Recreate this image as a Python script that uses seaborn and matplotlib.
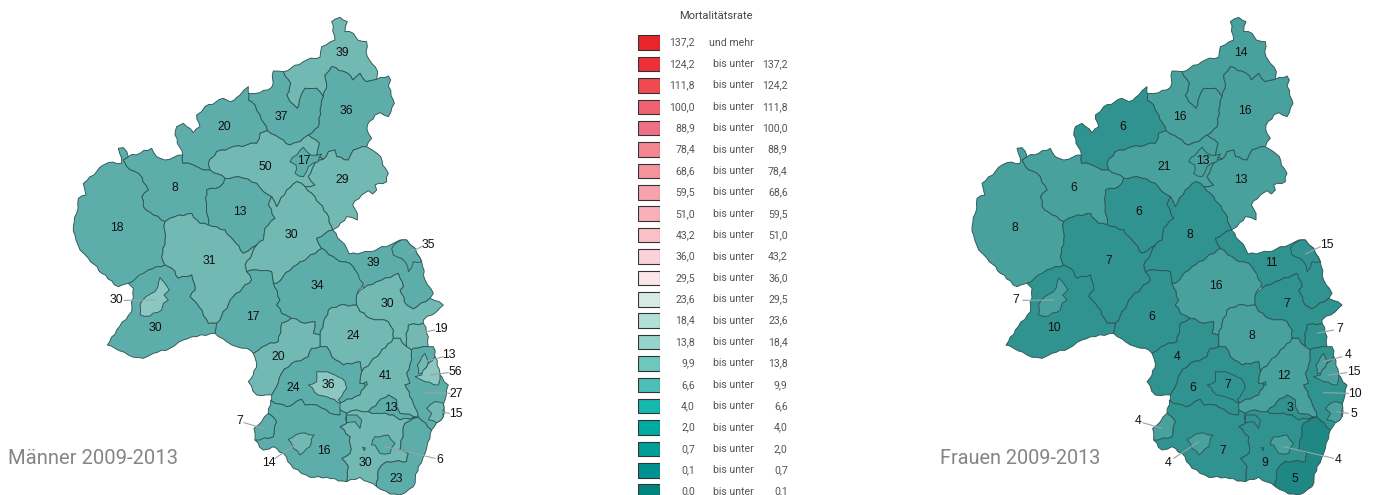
import math
import matplotlib
matplotlib.use("Agg")
import matplotlib.pyplot as plt
import pandas as pd
import seaborn as sns

sns.set_theme(style="white")
plt.rcParams['font.family'] = ['Liberation Sans', 'DejaVu Sans']
LEGEND_FONT = ['Roboto', 'DejaVu Sans']

# Legende
klasse_von = ['137,2', '124,2', '111,8', '100,0', '88,9', '78,4', '68,6', '59,5', '51,0', '43,2', '36,0',
              '29,5', '23,6', '18,4', '13,8', '9,9', '6,6', '4,0', '2,0', '0,7', '0,1', '0,0']
klasse_bis = ['', '137,2', '124,2', '111,8', '100,0', '88,9', '78,4', '68,6', '59,5', '51,0', '43,2',
              '36,0', '29,5', '23,6', '18,4', '13,8', '9,9', '6,6', '4,0', '2,0', '0,7', '0,1']
klasse_farbe = ['#E8252A', '#EE3038', '#F04A50', '#F06272', '#EE7085', '#F58690', '#F6949E', '#F8A2AC',
                '#FAB0B8', '#FBBFC6', '#FCD2D8', '#FDE6E9', '#D8EBE4', '#B2DFD8', '#96D4CB', '#6EC8BE',
                '#4CC0B6', '#14B8AE', '#00ABA2', '#009E98', '#009290', '#008480']

# Kreise, Werte und Farbstufe je Karte
kreise = ['Altenkirchen', 'Westerwald', 'Neuwied', 'Ahrweiler', 'Mayen-Koblenz', 'Rhein-Lahn', 'Koblenz',
          'Vulkaneifel', 'Bitburg-Pruem', 'Cochem-Zell', 'Rhein-Hunsrueck', 'Bernkastel-Wittlich',
          'Trier-Saarburg', 'Trier', 'Birkenfeld', 'Mainz-Bingen', 'Mainz', 'Bad Kreuznach', 'Alzey-Worms',
          'Worms', 'Donnersberg', 'Kusel', 'Kaiserslautern-Land', 'Kaiserslautern', 'Bad Duerkheim',
          'Rhein-Pfalz', 'Frankenthal', 'Ludwigshafen', 'Speyer', 'Neustadt', 'Suedliche Weinstrasse',
          'Landau', 'Germersheim', 'Suedwestpfalz', 'Pirmasens', 'Zweibruecken']
werte_maenner = [39, 36, 37, 20, 50, 29, 17, 8, 18, 13, 30, 31, 30, 30, 17, 39, 35, 34, 30, 19, 24, 20, 24, 36,
                 41, 27, 13, 56, 15, 13, 30, 6, 23, 16, 14, 7]
werte_frauen = [14, 16, 16, 6, 21, 13, 13, 6, 8, 6, 8, 7, 10, 7, 6, 11, 15, 16, 7, 7, 8, 4, 6, 7,
                12, 10, 4, 15, 5, 3, 9, 4, 5, 7, 4, 4]
stufe_maenner = ['#72B8B3', '#5DAEAA', '#5DAEAA', '#5DAEAA', '#72B8B3', '#72B8B3', '#5DAEAA', '#5DAEAA', '#5DAEAA',
                 '#5DAEAA', '#72B8B3', '#72B8B3', '#5DAEAA', '#8CC7C1', '#5DAEAA', '#5DAEAA', '#5DAEAA', '#5DAEAA',
                 '#72B8B3', '#72B8B3', '#72B8B3', '#72B8B3', '#5DAEAA', '#8CC7C1', '#72B8B3', '#5DAEAA', '#72B8B3',
                 '#8CC7C1', '#72B8B3', '#5DAEAA', '#72B8B3', '#5DAEAA', '#5DAEAA', '#5DAEAA', '#72B8B3', '#5DAEAA']
stufe_frauen = ['#48A19D', '#48A19D', '#48A19D', '#30938F', '#48A19D', '#48A19D', '#48A19D', '#48A19D', '#48A19D',
                '#30938F', '#30938F', '#30938F', '#30938F', '#48A19D', '#30938F', '#30938F', '#30938F', '#48A19D',
                '#30938F', '#30938F', '#48A19D', '#30938F', '#30938F', '#30938F', '#48A19D', '#30938F', '#48A19D',
                '#48A19D', '#48A19D', '#30938F', '#30938F', '#48A19D', '#1F8884', '#30938F', '#48A19D', '#48A19D']


def unten(punkte):
    return [(x, y + 720) for x, y in punkte]


def rauh(punkte):
    # Grenzen leicht zackig, gemeinsame Kanten zweier Kreise bleiben dabei deckungsgleich
    neu = []
    for i, p in enumerate(punkte):
        q = punkte[(i + 1) % len(punkte)]
        a, b = (p, q) if p <= q else (q, p)
        laenge = math.hypot(b[0] - a[0], b[1] - a[1])
        n = int(laenge // 12)
        zwischen = []
        for k in range(1, n):
            t = k / n
            s = ((a[0] * 7 + a[1] * 13 + b[0] * 3 + k * 29) % 11 - 5) * 0.65
            zwischen.append((a[0] + (b[0] - a[0]) * t - (b[1] - a[1]) / laenge * s,
                             a[1] + (b[1] - a[1]) * t + (b[0] - a[0]) / laenge * s))
        if p > q:
            zwischen.reverse()
        neu.append(p)
        neu.extend(zwischen)
    return neu


# Kartenumrisse in 3-fach vergroesserten Pixeln
umrisse = {
    'Altenkirchen': [(670, 215), (740, 180), (780, 172), (785, 140), (825, 120), (815, 65), (840, 52), (862, 65), (855, 95), (880, 100), (893, 120), (920, 125), (922, 170), (935, 190), (953, 215), (950, 238), (918, 245), (900, 220), (878, 240), (860, 218), (815, 200), (795, 225), (800, 250), (790, 290), (770, 265), (735, 265), (722, 290), (712, 325), (690, 305), (680, 285), (692, 250)],
    'Westerwald': [(815, 200), (860, 218), (878, 240), (900, 220), (918, 245), (950, 238), (985, 228), (992, 240), (985, 258), (1000, 300), (1003, 310), (985, 350), (960, 338), (945, 345), (922, 375), (925, 400), (935, 415), (920, 440), (880, 450), (865, 480), (830, 470), (825, 450), (805, 455), (790, 478), (770, 465), (778, 430), (745, 405), (775, 380), (780, 330), (790, 290), (800, 250), (795, 225)],
    'Neuwied': [(565, 280), (600, 278), (635, 262), (640, 213), (670, 215), (692, 250), (680, 285), (690, 305), (712, 325), (722, 290), (735, 265), (770, 265), (790, 290), (780, 330), (775, 380), (745, 405), (720, 425), (690, 435), (660, 415), (622, 392), (600, 345), (585, 315), (565, 300)],
    'Ahrweiler': [(345, 405), (350, 380), (370, 370), (400, 398), (420, 380), (410, 345), (435, 320), (490, 295), (510, 305), (540, 285), (565, 260), (565, 300), (585, 315), (600, 345), (622, 392), (600, 400), (590, 430), (560, 435), (520, 440), (470, 455), (445, 490), (450, 510), (430, 510), (400, 495), (368, 490), (368, 465)],
    'Mayen-Koblenz': [(622, 392), (660, 415), (690, 435), (720, 425), (745, 405), (778, 430), (770, 465), (790, 478), (765, 490), (745, 530), (765, 555), (735, 560), (710, 545), (680, 570), (650, 620), (635, 590), (610, 575), (590, 550), (535, 530), (495, 535), (450, 510), (445, 490), (470, 455), (520, 440), (560, 435), (590, 430), (600, 400)],
    'Rhein-Lahn': [(790, 478), (805, 455), (825, 450), (830, 470), (865, 480), (880, 450), (920, 440), (940, 452), (962, 470), (968, 495), (985, 520), (980, 545), (945, 555), (950, 570), (938, 582), (925, 572), (905, 585), (878, 615), (892, 640), (892, 660), (875, 652), (860, 650), (835, 680), (818, 690), (800, 640), (765, 590), (735, 560), (765, 555), (745, 530), (765, 490)],
    'Koblenz': [(730, 442), (752, 465), (785, 462), (775, 485), (745, 500), (730, 530), (705, 520), (708, 495), (690, 485)],
    'Vulkaneifel': [(190, 480), (205, 470), (240, 460), (275, 445), (290, 470), (315, 480), (368, 465), (368, 490), (400, 495), (430, 510), (450, 510), (495, 535), (480, 560), (440, 570), (440, 620), (445, 675), (420, 670), (395, 640), (345, 650), (315, 665), (280, 645), (250, 620), (245, 590), (265, 570), (235, 520), (200, 500)],
    'Bitburg-Pruem': [(185, 490), (175, 445), (190, 443), (205, 470), (190, 480), (200, 500), (235, 520), (265, 570), (245, 590), (250, 620), (280, 645), (315, 665), (315, 720), (305, 770), (315, 795), (265, 810), (250, 825), (205, 850), (175, 860), (125, 820), (85, 775), (60, 750), (48, 720), (40, 680), (50, 640), (55, 595), (78, 585), (70, 550), (130, 495), (145, 488)],
    'Cochem-Zell': [(495, 535), (535, 530), (590, 550), (610, 575), (635, 590), (625, 615), (645, 655), (615, 685), (610, 720), (590, 735), (550, 760), (520, 720), (495, 690), (445, 675), (440, 620), (440, 570), (480, 560)],
    'Rhein-Hunsrueck': [(650, 620), (680, 570), (710, 545), (735, 560), (765, 590), (800, 640), (818, 690), (770, 715), (785, 745), (700, 800), (650, 850), (640, 850), (635, 815), (590, 810), (560, 815), (555, 795), (590, 735), (610, 720), (615, 685), (645, 655), (625, 615), (635, 590)],
    'Bernkastel-Wittlich': [(315, 665), (345, 650), (395, 640), (420, 670), (445, 675), (495, 690), (520, 720), (550, 760), (590, 735), (555, 795), (560, 815), (575, 840), (520, 890), (470, 970), (445, 970), (410, 910), (390, 890), (405, 870), (395, 825), (355, 835), (335, 805), (315, 795), (305, 770), (315, 720)],
    'Trier-Saarburg': unten([(315, 75), (335, 85), (355, 115), (395, 105), (405, 150), (390, 170), (410, 190), (445, 250), (470, 250), (465, 280), (410, 290), (370, 300), (330, 325), (280, 340), (250, 355), (205, 345), (165, 325), (142, 315), (170, 270), (215, 215), (220, 145), (205, 130), (250, 100), (265, 90)]),
    'Trier': unten([(300, 113), (315, 130), (328, 150), (312, 165), (325, 180), (310, 190), (305, 210), (270, 228), (240, 225), (240, 195), (258, 170), (285, 155)]),
    'Birkenfeld': unten([(560, 95), (590, 90), (635, 95), (640, 130), (660, 180), (650, 195), (665, 220), (695, 235), (665, 250), (655, 305), (620, 315), (580, 340), (560, 325), (530, 320), (500, 305), (465, 280), (470, 250), (520, 170), (575, 120)]),
    'Mainz-Bingen': [(770, 715), (818, 690), (860, 745), (868, 762), (930, 755), (990, 735), (1020, 720), (1040, 720), (1065, 745), (1085, 785), (1095, 840), (1120, 880), (1110, 895), (1060, 927), (1040, 915), (1020, 870), (1030, 860), (1015, 820), (950, 845), (910, 865), (885, 810), (870, 790), (840, 785), (820, 770), (785, 745)],
    'Mainz': unten([(1015, 5), (1040, 0), (1065, 25), (1085, 65), (1060, 65), (1045, 95), (1035, 65), (1000, 45), (995, 25)]),
    'Bad Kreuznach': unten([(650, 130), (700, 80), (785, 25), (820, 50), (840, 65), (870, 70), (885, 90), (910, 130), (890, 165), (890, 195), (840, 195), (805, 210), (790, 250), (780, 285), (760, 280), (765, 245), (735, 250), (695, 235), (665, 220), (650, 195), (660, 180), (640, 130)]),
    'Alzey-Worms': unten([(910, 145), (950, 125), (1015, 100), (1030, 140), (1020, 150), (1040, 195), (1060, 207), (1110, 175), (1150, 195), (1130, 215), (1090, 240), (1090, 250), (1045, 255), (1040, 295), (1040, 320), (1020, 295), (1000, 295), (1000, 270), (985, 245), (930, 235), (900, 215), (890, 195), (890, 165)]),
    'Worms': unten([(1045, 255), (1090, 250), (1105, 290), (1105, 320), (1060, 325), (1055, 330), (1040, 320), (1040, 295)]),
    'Donnersberg': unten([(805, 210), (840, 195), (890, 195), (900, 215), (930, 235), (985, 245), (1000, 270), (1000, 295), (960, 340), (905, 395), (900, 365), (850, 375), (815, 350), (800, 320), (780, 320), (780, 285), (790, 250)]),
    'Kusel': unten([(665, 250), (695, 235), (735, 250), (765, 245), (760, 280), (780, 285), (780, 320), (755, 325), (745, 350), (695, 370), (665, 400), (650, 440), (635, 465), (590, 465), (565, 425), (580, 405), (590, 370), (580, 340), (620, 315), (655, 305)]),
    'Kaiserslautern-Land': unten([(695, 370), (745, 350), (755, 325), (780, 320), (800, 320), (815, 350), (850, 375), (900, 365), (905, 395), (900, 430), (918, 430), (900, 465), (850, 485), (840, 525), (810, 520), (770, 495), (735, 495), (725, 478), (680, 500), (635, 483), (635, 465), (650, 440), (665, 400)]),
    'Kaiserslautern': unten([(770, 395), (800, 395), (825, 405), (855, 425), (860, 445), (835, 480), (845, 490), (800, 470), (775, 465), (745, 435), (770, 425)]),
    'Bad Duerkheim': unten([(905, 395), (960, 340), (1000, 295), (1020, 295), (1040, 320), (1055, 330), (1055, 360), (1040, 400), (1050, 430), (1035, 435), (1060, 490), (1075, 532), (1020, 520), (1010, 500), (1010, 480), (985, 465), (955, 485), (925, 515), (890, 510), (860, 520), (840, 510), (840, 490), (850, 485), (900, 465), (918, 430), (900, 430)]),
    'Rhein-Pfalz': unten([(1055, 330), (1060, 325), (1105, 320), (1120, 320), (1135, 400), (1165, 435), (1155, 480), (1150, 530), (1115, 570), (1075, 532), (1060, 490), (1035, 435), (1050, 430), (1040, 400), (1055, 360)]),
    'Frankenthal': unten([(1072, 375), (1095, 340), (1105, 365), (1090, 400), (1075, 400)]),
    'Ludwigshafen': unten([(1105, 370), (1125, 350), (1140, 400), (1135, 435), (1095, 425), (1065, 410), (1085, 405)]),
    'Speyer': unten([(1100, 505), (1125, 485), (1150, 490), (1150, 530), (1130, 548), (1105, 540), (1115, 520)]),
    'Neustadt': unten([(925, 515), (955, 485), (985, 465), (1010, 480), (1010, 500), (1020, 520), (1075, 532), (1020, 540), (1000, 525), (950, 520)]),
    'Suedliche Weinstrasse': unten([(890, 510), (925, 515), (950, 520), (1000, 525), (1020, 540), (1075, 532), (1035, 550), (1020, 630), (1045, 640), (1040, 665), (980, 665), (955, 690), (950, 740), (900, 712), (860, 725), (865, 680), (845, 655), (870, 640), (870, 590), (840, 560), (860, 550), (860, 520)]),
    'Landau': unten([(935, 615), (945, 590), (985, 585), (1005, 610), (990, 640), (960, 640), (945, 615)]),
    'Germersheim': unten([(1035, 550), (1075, 532), (1115, 570), (1110, 595), (1095, 640), (1075, 680), (1060, 740), (1020, 765), (990, 762), (950, 740), (955, 690), (980, 665), (1040, 665), (1045, 640), (1020, 630)]),
    'Suedwestpfalz': unten([(635, 483), (680, 500), (725, 478), (735, 495), (770, 495), (810, 520), (840, 525), (840, 510), (860, 520), (860, 550), (840, 560), (870, 590), (870, 640), (845, 655), (865, 680), (860, 725), (800, 712), (750, 712), (700, 685), (670, 640), (640, 620), (610, 630), (585, 600), (640, 590), (650, 545), (625, 520), (632, 480)]),
    'Pirmasens': unten([(685, 598), (720, 580), (762, 585), (750, 620), (720, 645), (700, 625)]),
    'Zweibruecken': unten([(625, 520), (650, 545), (640, 590), (600, 600), (585, 600), (582, 565), (605, 545)]),
}

# abgetrennte Teilflaechen, gefaerbt wie der genannte Kreis
exklaven = [
    ('Neustadt', unten([(860, 525), (890, 525), (905, 540), (900, 565), (885, 545), (860, 548)])),
    ('Kaiserslautern-Land', unten([(913, 428), (920, 425), (922, 435), (914, 436)])),
    ('Suedwestpfalz', unten([(908, 622), (916, 624), (913, 632)])),
]

# Beschriftungsstellen, bei den kleinen Kreisen mit Fuehrungslinie
beschriftung = {
    'Altenkirchen': (846, 160), 'Westerwald': (858, 332), 'Neuwied': (665, 350), 'Ahrweiler': (493, 382),
    'Mayen-Koblenz': (617, 502), 'Koblenz': (732, 482), 'Rhein-Lahn': (848, 541), 'Vulkaneifel': (344, 565),
    'Cochem-Zell': (541, 637), 'Bitburg-Pruem': (170, 683), 'Rhein-Hunsrueck': (695, 705),
    'Bernkastel-Wittlich': (449, 782), 'Bad Kreuznach': (772, 858), 'Mainz-Bingen': (939, 790), 'Mainz': (1105, 735),
    'Alzey-Worms': (983, 912), 'Trier': (170, 901), 'Trier-Saarburg': (287, 985), 'Birkenfeld': (580, 951),
    'Donnersberg': (879, 1008), 'Worms': (1144, 987), 'Kusel': (656, 1071), 'Frankenthal': (1168, 1066),
    'Ludwigshafen': (1185, 1116), 'Rhein-Pfalz': (1188, 1181), 'Kaiserslautern-Land': (701, 1165),
    'Kaiserslautern': (806, 1155), 'Bad Duerkheim': (976, 1129), 'Neustadt': (993, 1225), 'Speyer': (1187, 1242),
    'Zweibruecken': (539, 1264), 'Pirmasens': (627, 1390), 'Suedwestpfalz': (793, 1354),
    'Suedliche Weinstrasse': (917, 1388), 'Landau': (1138, 1380), 'Germersheim': (1008, 1437),
}
fuehrung = {
    'Mainz': [(1085, 740), (1040, 762)], 'Trier': [(192, 901), (285, 900)], 'Worms': [(1125, 990), (1075, 1000)],
    'Frankenthal': [(1150, 1070), (1095, 1085)], 'Ludwigshafen': [(1165, 1118), (1110, 1125)],
    'Rhein-Pfalz': [(1170, 1180), (1095, 1178)], 'Speyer': [(1168, 1240), (1135, 1235)],
    'Zweibruecken': [(552, 1268), (610, 1285)], 'Pirmasens': [(645, 1375), (720, 1325)],
    'Landau': [(1125, 1375), (975, 1340)],
}


def zeichne_karte(ax, x0, werte, stufen):
    farben = dict(zip(kreise, stufen))
    teile = [(name, rauh(umrisse[name])) for name in kreise] + exklaven
    for name, pts in teile:
        ax.fill([x0 + p[0] / 3 for p in pts], [p[1] / 3 for p in pts], facecolor=farben[name],
                edgecolor='#2E5556', linewidth=0.65, joinstyle='round', zorder=2)
    for name, wert in zip(kreise, werte):
        if name in fuehrung:
            linie = fuehrung[name]
            ax.plot([x0 + p[0] / 3 for p in linie], [p[1] / 3 for p in linie], color='#9AA5A5', lw=0.8, zorder=3)
        x, y = beschriftung[name]
        ax.text(x0 + x / 3, y / 3, str(wert), ha='center', va='center', fontsize=8.8, color='#111111', zorder=4)


fig = plt.figure(figsize=(13.75, 4.95), dpi=100)
ax = fig.add_axes([0, 0, 1, 1])
ax.set_xlim(0, 1375)
ax.set_ylim(495, 0)
ax.axis('off')

zeichne_karte(ax, 60, werte_maenner, stufe_maenner)
zeichne_karte(ax, 958.7, werte_frauen, stufe_frauen)

ax.text(8, 458, 'Männer 2009-2013', fontsize=14.6, color='#858585', family=LEGEND_FONT, va='center', ha='left')
ax.text(940, 458, 'Frauen 2009-2013', fontsize=14.3, color='#858585', family=LEGEND_FONT, va='center', ha='left')

# Legende als Balken in einer eigenen Achse
zeilen = 21.38
oben = 42.7 - zeilen / 2
hoehe = zeilen * len(klasse_von)
ax_leg = fig.add_axes([638.3 / 1375, 1 - (oben + hoehe) / 495, 21.7 / 1375, hoehe / 495])
leg_df = pd.DataFrame({'von': [f'{i}' for i in range(len(klasse_von))], 'breite': [1] * len(klasse_von)})
sns.barplot(data=leg_df, y='von', x='breite', hue='von', palette=klasse_farbe, width=0.68, dodge=False, saturation=1,
            edgecolor='#333333', linewidth=0.8, legend=False, ax=ax_leg)
ax_leg.set_xlim(0, 1)
ax_leg.axis('off')

ax.text(716, 16, 'Mortalitätsrate', fontsize=8, color='#444444', family=LEGEND_FONT, ha='center', va='center')
for i, (von, bis) in enumerate(zip(klasse_von, klasse_bis)):
    y = 42.7 + i * zeilen
    ax.text(695, y, von, fontsize=7.6, color='#555555', family=LEGEND_FONT, ha='right', va='center')
    if bis:
        ax.text(712.7, y, 'bis unter', fontsize=7.6, color='#555555', family=LEGEND_FONT, ha='left', va='center')
        ax.text(787.7, y, bis, fontsize=7.6, color='#555555', family=LEGEND_FONT, ha='right', va='center')
    else:
        ax.text(709, y, 'und mehr', fontsize=7.6, color='#555555', family=LEGEND_FONT, ha='left', va='center')

fig.savefig('out.png', dpi=100, facecolor='white')
